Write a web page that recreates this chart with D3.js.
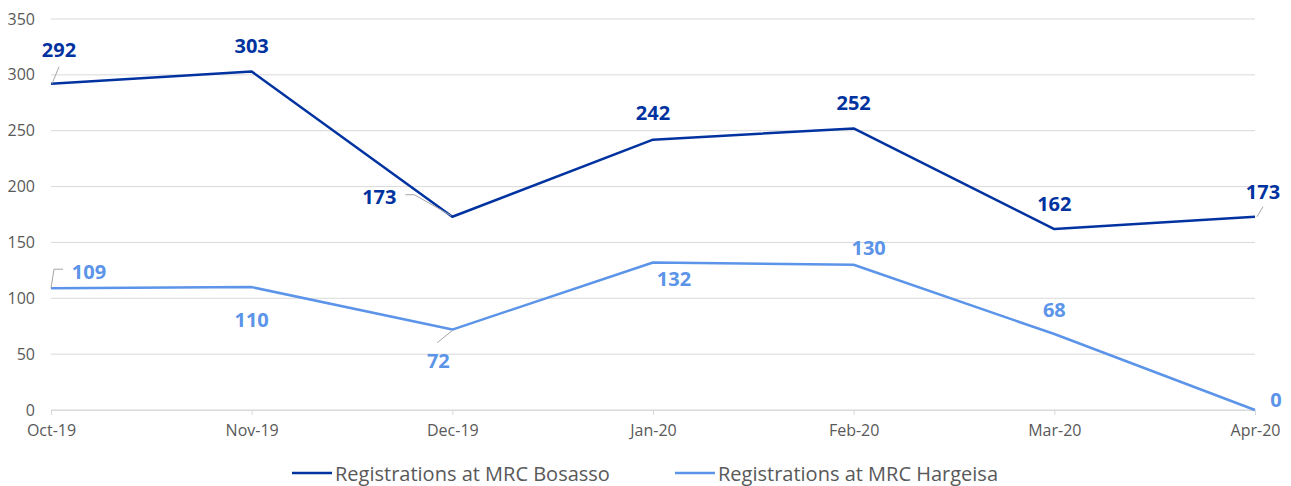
<!DOCTYPE html>
<html>
<head>
<meta charset="utf-8">
<script src="https://cdn.jsdelivr.net/npm/d3@7"></script>
<style>
  body { margin: 0; background: #fff; }
  svg { font-family: "Open Sans", sans-serif; }
  .grid line { stroke: #d9d9d9; stroke-width: 1; }
  .axis text { fill: #595959; font-size: 16px; font-family: "Open Sans", sans-serif; }
  .line { fill: none; stroke-width: 2.5; stroke-linejoin: round; }
  .lbl { font-weight: bold; font-size: 20px; }
  .leader { fill: none; stroke: #a6a6a6; stroke-width: 1; }
</style>
</head>
<body>
<svg id="chart" width="1291" height="486"></svg>
<script>
// data
var months = ["Oct-19", "Nov-19", "Dec-19", "Jan-20", "Feb-20", "Mar-20", "Apr-20"];
var bosasso = [292, 303, 173, 242, 252, 162, 173];
var hargeisa = [109, 110, 72, 132, 130, 68, 0];
var yTicks = [0, 50, 100, 150, 200, 250, 300, 350];
var seriesNames = ["Registrations at MRC Bosasso", "Registrations at MRC Hargeisa"];

// label placement (offset from the point) and leader lines
var bosassoLabelOff = [[8, -34], [0, -26], [-73, -20], [0, -27], [0, -26], [0, -26], [8, -25]];
var hargeisaLabelOff = [[38, -17], [0, 32], [-14, 31], [21, 16], [15, -17], [0, -25], [21, -11]];
var bosassoLeaders = { 0: [[1, 0], [8, -17]], 2: [[-1, -1], [-38, -22], [-47, -22]], 6: [[2, 0], [8, -10]] };
var hargeisaLeaders = { 0: [[0, 0], [3, -19], [12, -19]], 2: [[0, 1], [-15, 13]] };

var svg = d3.select("#chart"),
    plotLeft = 51, plotRight = 1255, plotTop = 19, plotBottom = 410;

var x = d3.scalePoint().domain(months).range([plotLeft, plotRight]),
    y = d3.scaleLinear().domain([0, 350]).range([plotBottom, plotTop]);

// gridlines
svg.append("g").attr("class", "grid")
    .selectAll("line").data(yTicks).enter().append("line")
    .attr("x1", plotLeft).attr("x2", plotRight)
    .attr("y1", d => y(d)).attr("y2", d => y(d));

// y axis
var yAxis = svg.append("g").attr("class", "axis")
    .attr("transform", "translate(" + plotLeft + ",0)")
    .call(d3.axisLeft(y).tickValues(yTicks).tickSize(0).tickPadding(16));
yAxis.select(".domain").remove();

// x axis
var xAxis = svg.append("g").attr("class", "axis")
    .attr("transform", "translate(0," + plotBottom + ")")
    .call(d3.axisBottom(x).tickSize(5).tickPadding(10));
xAxis.select(".domain").attr("stroke", "#d9d9d9");
xAxis.selectAll(".tick line").attr("stroke", "#d9d9d9");

var series = [
    { name: seriesNames[0], values: bosasso, color: "#0033a0", off: bosassoLabelOff, leaders: bosassoLeaders },
    { name: seriesNames[1], values: hargeisa, color: "#5b94e8", off: hargeisaLabelOff, leaders: hargeisaLeaders }
];

var line = d3.line()
    .x((d, i) => x(months[i]))
    .y(d => y(d));

series.forEach(s => {
    svg.append("path")
        .datum(s.values)
        .attr("class", "line")
        .attr("stroke", s.color)
        .attr("d", line);

    Object.keys(s.leaders).forEach(k => {
        var px = x(months[k]), py = y(s.values[k]);
        svg.append("path")
            .attr("class", "leader")
            .attr("d", d3.line()(s.leaders[k].map(p => [px + p[0], py + p[1]])));
    });

    svg.append("g").selectAll("text")
        .data(s.values).enter().append("text")
        .attr("class", "lbl")
        .attr("fill", s.color)
        .attr("text-anchor", "middle")
        .attr("dominant-baseline", "central")
        .attr("x", (d, i) => x(months[i]) + s.off[i][0])
        .attr("y", (d, i) => y(d) + s.off[i][1])
        .text(d => d);
});

// legend
var legendX = [292, 675];
var legend = svg.append("g").selectAll("g")
    .data(series).enter().append("g")
    .attr("transform", (d, i) => "translate(" + legendX[i] + ",473)");
legend.append("line")
    .attr("x1", 0).attr("x2", 40)
    .attr("stroke", d => d.color).attr("stroke-width", 2.5);
legend.append("text")
    .attr("x", 43)
    .attr("dominant-baseline", "central")
    .attr("fill", "#595959")
    .style("font-size", "20px")
    .text(d => d.name);
</script>
</body>
</html>
